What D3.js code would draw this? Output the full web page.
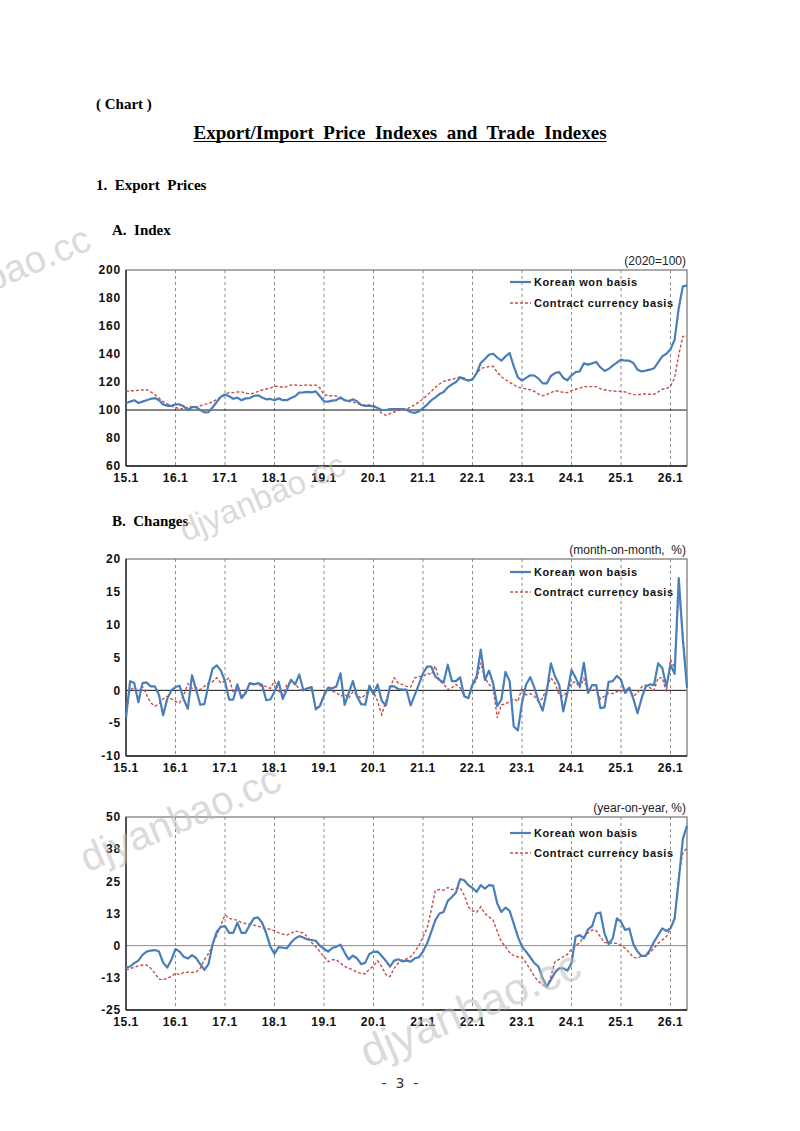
<!DOCTYPE html>
<html>
<head>
<meta charset="utf-8">
<script src="https://cdn.jsdelivr.net/npm/d3@7"></script>
<style>
  body { margin: 0; background: #fff; }
  svg { display: block; }
  .head { font-family: "Liberation Serif", "Times New Roman", serif; font-weight: bold; white-space: pre; fill: #000; }
  .tick-y, .tick-x { font-family: "Liberation Sans", Arial, sans-serif; font-weight: bold; font-size: 12px; fill: #111; }
  .unit { font-family: "Liberation Sans", Arial, sans-serif; font-size: 12px; fill: #222; white-space: pre; }
  .legend { font-family: "Liberation Sans", Arial, sans-serif; font-weight: bold; font-size: 11px; letter-spacing: 0.6px; fill: #111; }
  .mark { font-family: "Liberation Sans", Arial, sans-serif; fill: #bdbdbd; opacity: 0.55; }
</style>
</head>
<body>
<div id="page"></div>
<script>
// monthly series, 15.1 .. 26.5
var xTickLabels = ["15.1", "16.1", "17.1", "18.1", "19.1", "20.1", "21.1", "22.1", "23.1", "24.1", "25.1", "26.1"];
var seriesNames = ["Korean won basis", "Contract currency basis"];

// A. Index (2020=100)
var idxWon = [
  104.8,106,107,105,106,107,108,108.5,107,104,103,103,
  104,104,102.6,100,102,102,100,98.3,98.5,102,105.7,109.5,
  111,109.8,108,108.8,107,108.3,108.5,110,110.5,109,107.6,107.9,
  107,108.3,107,107,108.5,109.8,112.4,112.6,112.9,112.6,113.3,109.8,
  106.2,106,106.7,107,109,107,106.4,107.6,106.2,103.6,102.9,103,
  102.6,101.4,100,100,100.7,100.7,100.7,100.7,100.2,98.6,97.9,99,
  101.4,103.8,106.9,109,111.4,112.9,116.2,118.3,120,123.3,122,121,
  121.9,126.4,133.6,136.4,139.5,140.2,137.5,135.2,138.3,140.7,131.2,123.3,
  121,122.9,124.8,124.5,122.4,119,119,124.3,126.4,127.1,122.9,121.2,
  124.8,127.1,127.6,133.3,132.4,133.3,134.3,130.5,127.9,129.3,131.7,133.8,
  136,135.2,135.2,133.6,128.8,127.6,128.1,128.8,129.8,134,138.3,140.2,
  143.3,150.2,172.9,188.3,189
];
var idxContract = [
  113,113.8,113.8,114,114.3,114.5,113,111,108.5,106,104.3,102.6,
  102,100.5,101.2,102,102.4,102.4,103,104,104.5,106,107.6,109,
  111,112.6,112.4,112.9,112.9,112,111.4,112,113.3,114.3,115,115.7,
  117,116.7,116.2,116.7,117.9,117.9,117.6,117.6,118,117.6,117.9,115.7,
  111,110.2,110.2,110,108,106.7,106.2,105.7,104.8,103.6,103.6,103.6,
  103.3,101.4,97.6,96.2,97.4,98.6,99.5,100.7,100.7,102,103.8,105.7,
  107.9,110.5,113.3,116.2,118.6,120.5,121.4,121.7,122.9,123.6,122.9,121.4,
  122.4,126,129.5,130.5,131,131.2,127,123.8,121.7,119.8,118,116.2,
  115.7,115,114.5,113.3,111.4,110.2,111,112.4,113.8,113.3,112.6,112.4,
  113.8,114.8,115.5,116.7,116.7,116.7,116.7,115.2,114.5,113.8,113.6,113.3,
  113.3,112.9,111.9,111,110.7,111.4,111.4,111.2,111.2,112.9,114.8,115.2,
  116.9,122.9,139.5,152.6,152.6
];

// B. Changes, month-on-month %
var momWon = [
  -4.2,1.4,1.1,-1.8,1.1,1.2,0.6,0.6,-0.7,-3.8,-1.3,0,
  0.5,0.7,-1.4,-2.8,2.3,0.1,-2.2,-2.1,0.9,3.3,3.8,3.0,
  1.4,-1.4,-1.4,0.9,-1.2,-0.4,1.1,0.9,1.1,0.8,-1.5,-1.4,
  -0.2,1.3,-1.3,0.1,1.6,0.9,2.4,0,0.3,0.5,-2.9,-2.4,
  -0.8,0.4,0.3,0.6,2.6,-2.2,-0.4,1.4,-0.9,-2.1,-2.2,0.7,
  -0.6,0.9,-1.6,-2.3,0.6,0.6,0.2,0.1,0.1,-2.3,-0.7,0.9,
  2.6,3.6,3.6,2.1,1.6,1.2,3.9,1.4,1.4,2.0,-0.9,-1.2,
  0.9,2.1,6.2,1.6,3.0,1.1,-2.4,-1.4,2.8,1.4,-5.5,-6.1,
  -1.9,0.9,2.0,0.4,-1.6,-3.1,-0.2,4.1,2.1,0.9,-3.2,-0.4,
  3.1,1.9,0.6,4.2,-0.4,0.8,0.8,-2.7,-2.6,1.3,1.4,2.2,
  1.6,-0.4,0.4,-1.3,-3.5,-1.2,0.6,0.9,0.8,4.1,3.4,0.6,
  3.9,2.5,17.1,7.7,0.4
];
var momContract = [
  -2.8,0.1,0.4,-0.2,0.6,-0.7,-1.9,-2.4,-2.1,-1.3,-0.9,-1.3,
  -1.7,-1.9,-0.7,1.0,0.3,0.4,0.1,0.6,1.1,1.3,1.9,1.1,
  1.4,1.9,-0.4,0.9,-0.9,-0.2,0.9,1.0,0.9,0.6,0.6,0.3,
  1.4,-0.2,-0.7,0.9,1.3,1.1,0.1,0,0.3,0.4,-2.8,-2.2,
  -0.7,0.4,-0.2,-0.3,-0.9,-0.6,-1.2,-0.2,-0.7,-1.2,-0.7,0.4,
  -0.2,-1.7,-3.7,-1.7,0.4,1.9,1.1,0.9,0.6,0.5,1.9,2.1,
  2.1,2.6,2.4,3.7,1.4,1.0,0.1,0.4,0.9,0.4,-0.9,-1.1,
  0.6,1.6,4.2,1.9,0.9,0.4,-4.2,-2.2,-2.1,-1.7,-1.3,-1.7,
  0.4,-0.7,-0.5,-0.9,-1.7,-1.2,0.4,1.9,1.1,-0.7,-0.9,-0.2,
  1.1,1.3,0.4,1.8,-0.2,0.1,0,-1.3,-0.9,-0.4,-0.5,-0.2,
  -0.1,0,0.4,-0.9,-0.4,0.5,0.8,0.4,0,1.9,1.9,-0.2,
  4.7,3.4,15.3,8.5,0.4
];

// year-on-year %
var yoyWon = [
  -8.5,-8.1,-6.8,-5.8,-3.6,-2.3,-1.9,-1.7,-2.3,-6.6,-8.5,-5.5,
  -1.3,-2.3,-4.3,-5.0,-3.7,-4.8,-7.2,-9.4,-7.2,0.6,5.4,7.3,
  7.6,5.0,5.0,8.9,5.0,5.0,8.0,10.6,11.0,8.9,4.8,-0.4,
  -3.2,-0.6,-0.8,-1.0,1.2,2.8,3.7,3.2,2.4,2.2,1.9,0,
  -1.2,-2.3,-0.9,-0.4,0.4,-2.7,-5.3,-3.9,-4.9,-7.2,-6.6,-3.2,
  -2.4,-2.3,-4.0,-5.9,-8.1,-5.8,-5.3,-6.1,-5.8,-6.2,-4.9,-4.5,
  -2.3,0.9,5.4,9.9,12.5,13.1,17.4,18.9,20.7,25.9,25.4,23.5,
  22.4,20.9,23.5,22.2,23.5,23.3,16.4,13.1,14.8,13.5,8.6,3.5,
  -0.4,-2.3,-4.5,-6.8,-8.1,-12.6,-15.9,-13.3,-10.4,-8.8,-8.8,-9.7,
  -6.8,3.5,4.1,2.8,6.3,7.6,12.5,12.9,4.8,0.6,2.8,10.6,
  9.3,6.1,6.7,0.6,-2.3,-4.0,-4.0,-1.7,1.5,4.1,6.7,5.7,
  6.7,10.6,25.4,41.5,46.6
];
var yoyContract = [
  -9.4,-8.9,-8.4,-7.9,-7.5,-7.5,-8.8,-10.7,-13,-13.3,-12.6,-12,
  -10.7,-11.3,-10.4,-10.3,-10.4,-10.2,-8.8,-5.5,-3.0,0.3,4.1,8.0,
  11.9,10.6,10.2,9.9,8.9,8.6,8.4,8.0,7.6,7.0,6.7,6.3,
  5.8,5.0,4.5,4.1,4.8,5.7,5.4,4.8,3.5,1.2,-0.4,-2.3,
  -4.3,-6.2,-5.5,-5.5,-6.8,-8.1,-8.8,-9.4,-10.4,-10.7,-11,-9.1,
  -7.9,-5.9,-8.1,-11.3,-12,-8.8,-6.8,-5.5,-5.2,-4.3,-2.3,0,
  3.5,6.7,13.8,21.5,21.8,21.5,22.6,21.8,22.2,22.4,19.6,15.1,
  13.5,13.0,15.1,12.5,11.2,9.9,5.5,1.5,-0.4,-2.7,-3.9,-4.3,
  -4.6,-6.8,-9.1,-12,-13.9,-15.2,-16.2,-12,-6.2,-5.3,-4.3,-3.4,
  -1.4,0,1.2,3.5,5.0,6.1,5.8,3.5,1.2,1.2,0.9,0.9,
  0,-1.0,-2.7,-4.5,-4.9,-4.0,-4.0,-2.7,-1.0,0.9,2.2,3.5,
  6.7,9.9,27.3,36.3,37.9
];

var idxTicks = [60, 80, 100, 120, 140, 160, 180, 200];
var momTicks = [-10, -5, 0, 5, 10, 15, 20];
var yoyTicks = [-25, -12.5, 0, 12.5, 25, 37.5, 50];

var width = 800, height = 1131;
var left = 126, right = 687;
var BLUE = "#4a7ebb", RED = "#c0504d";

var svg = d3.select("#page").append("svg")
  .attr("width", width)
  .attr("height", height);

function heading(x, y, size, txt) {
  return svg.append("text").attr("class", "head")
    .attr("x", x).attr("y", y)
    .style("font-size", size + "px")
    .text(txt);
}

heading(96, 109, 15, "( Chart )");
var title = heading(400, 139, 19, "Export/Import  Price  Indexes  and  Trade  Indexes")
  .attr("text-anchor", "middle");
var tb = title.node().getBBox();
svg.append("line")
  .attr("x1", tb.x).attr("x2", tb.x + tb.width)
  .attr("y1", 141.5).attr("y2", 141.5)
  .attr("stroke", "#000").attr("stroke-width", 1.2);
heading(96, 190, 15, "1.  Export  Prices");
heading(112, 235, 15, "A.  Index");
heading(112, 526, 15, "B.  Changes");

// integer labels like the source ("38", "-13")
function fmt(v) {
  var r = Math.round(Math.abs(v));
  return (v < 0 ? "-" : "") + r;
}

function panel(cfg) {
  var n = cfg.won.length;
  var x = d3.scaleLinear().domain([0, n - 1]).range([left, right]);
  var y = d3.scaleLinear().domain(cfg.domain).range([cfg.bottom, cfg.top]);
  var g = svg.append("g");

  // january gridlines
  xTickLabels.forEach(function (lab, i) {
    if (i === 0) return;
    g.append("line")
      .attr("x1", x(i * 12)).attr("x2", x(i * 12))
      .attr("y1", cfg.top).attr("y2", cfg.bottom)
      .attr("stroke", "#8c8c8c").attr("stroke-width", 1)
      .attr("stroke-dasharray", "3,3");
  });

  // base line
  g.append("line")
    .attr("x1", left).attr("x2", right)
    .attr("y1", y(cfg.base)).attr("y2", y(cfg.base))
    .attr("stroke", cfg.baseColor).attr("stroke-width", 1);

  // frame
  g.append("rect")
    .attr("x", left).attr("y", cfg.top)
    .attr("width", right - left).attr("height", cfg.bottom - cfg.top)
    .attr("fill", "none").attr("stroke", "#7f7f7f").attr("stroke-width", 1.3);
  g.append("line")
    .attr("x1", left).attr("x2", left)
    .attr("y1", cfg.top).attr("y2", cfg.bottom)
    .attr("stroke", "#222").attr("stroke-width", 1.3);
  g.append("line")
    .attr("x1", left).attr("x2", right)
    .attr("y1", cfg.bottom).attr("y2", cfg.bottom)
    .attr("stroke", "#222").attr("stroke-width", 1.3);

  // y ticks
  g.selectAll(".tick-y").data(cfg.ticks).enter().append("text")
    .attr("class", "tick-y")
    .attr("x", left - 5).attr("y", function (d) { return y(d) + 4.3; })
    .attr("text-anchor", "end")
    .style("letter-spacing", "0.8px")
    .text(fmt);

  // x ticks
  g.selectAll(".tick-x").data(xTickLabels).enter().append("text")
    .attr("class", "tick-x")
    .attr("x", function (d, i) { return x(i * 12); })
    .attr("y", cfg.bottom + 16)
    .attr("text-anchor", "middle")
    .style("letter-spacing", "0.5px")
    .text(function (d) { return d; });

  var line = d3.line()
    .x(function (d, i) { return x(i); })
    .y(function (d) { return y(d); });

  g.append("path").datum(cfg.contract)
    .attr("d", line).attr("fill", "none")
    .attr("stroke", RED).attr("stroke-width", 1.4)
    .attr("stroke-dasharray", "3,2");
  g.append("path").datum(cfg.won)
    .attr("d", line).attr("fill", "none")
    .attr("stroke", BLUE).attr("stroke-width", 2.2)
    .attr("stroke-linejoin", "round");

  // unit
  g.append("text").attr("class", "unit")
    .attr("x", right - 1).attr("y", cfg.top - 5)
    .attr("text-anchor", "end")
    .text(cfg.unit);

  // legend
  var ly = [cfg.top + cfg.leg[0], cfg.top + cfg.leg[1]];
  g.append("line").attr("x1", 510).attr("x2", 531)
    .attr("y1", ly[0]).attr("y2", ly[0])
    .attr("stroke", BLUE).attr("stroke-width", 2.2);
  g.append("line").attr("x1", 510).attr("x2", 531)
    .attr("y1", ly[1]).attr("y2", ly[1])
    .attr("stroke", RED).attr("stroke-width", 1.4)
    .attr("stroke-dasharray", "3,2");
  seriesNames.forEach(function (s, i) {
    g.append("text").attr("class", "legend")
      .attr("x", 534).attr("y", ly[i] + 4)
      .text(s);
  });
}

panel({ won: idxWon, contract: idxContract, domain: [60, 200], ticks: idxTicks,
  top: 270, bottom: 466, base: 100, baseColor: "#111", unit: "(2020=100)", leg: [12, 33] });
panel({ won: momWon, contract: momContract, domain: [-10, 20], ticks: momTicks,
  top: 559, bottom: 756, base: 0, baseColor: "#111", unit: "(month-on-month,  %)", leg: [13, 33] });
panel({ won: yoyWon, contract: yoyContract, domain: [-25, 50], ticks: yoyTicks,
  top: 817, bottom: 1010, base: 0, baseColor: "#8a8a8a", unit: "(year-on-year, %)", leg: [16, 36] });

// page number
svg.append("text")
  .attr("x", 400).attr("y", 1088)
  .attr("text-anchor", "middle")
  .style("font-family", "'DejaVu Sans', sans-serif")
  .style("font-size", "14px")
  .style("white-space", "pre")
  .attr("fill", "#333")
  .text("-  3  -");

// watermark (the first one runs off the page edge, as in the source)
var marks = [
  { cx: -5, cy: 276, size: 38 },
  { cx: 262, cy: 497, size: 33 },
  { cx: 180, cy: 818, size: 40 },
  { cx: 470, cy: 1008, size: 44 }
];
marks.forEach(function (m) {
  svg.append("text").attr("class", "mark")
    .attr("text-anchor", "middle")
    .attr("transform", "translate(" + m.cx + "," + m.cy + ") rotate(-23)")
    .attr("dy", "0.35em")
    .style("font-size", m.size + "px")
    .text("djyanbao.cc");
});
</script>
</body>
</html>
